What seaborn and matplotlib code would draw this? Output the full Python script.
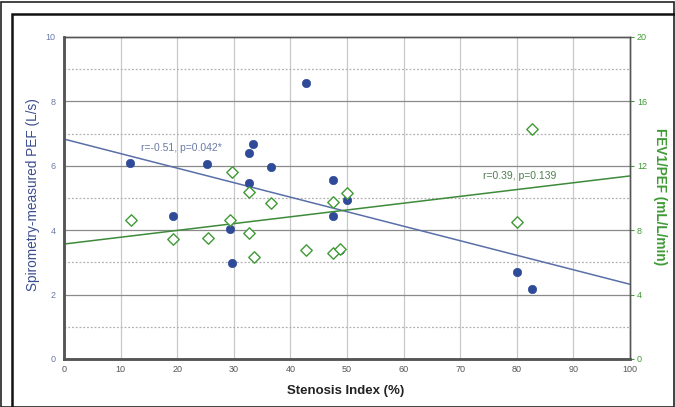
import numpy as np
import pandas as pd
import matplotlib
matplotlib.use("Agg")
import matplotlib.pyplot as plt
import seaborn as sns
from matplotlib.patches import Rectangle

# -----------------------------
# Data
# -----------------------------
pef_x = [11.7, 19.3, 25.3, 29.3, 29.6, 32.7, 33.4, 32.7, 36.5, 42.8,
         47.5, 47.5, 50.0, 48.8, 80.0, 82.7]
pef_y = [6.10, 4.45, 6.05, 4.04, 2.98, 6.40, 6.68, 5.47, 5.96, 8.57,
         5.56, 4.44, 4.94, 3.38, 2.70, 2.17]

ratio_x = [11.8, 19.3, 25.4, 29.3, 29.6, 32.7, 32.7, 33.5, 36.5, 42.8,
           47.5, 47.5, 48.8, 50.0, 80.0, 82.7]
ratio_y = [8.63, 7.45, 7.50, 8.63, 11.6, 10.4, 7.80, 6.35, 9.67, 6.77,
           9.75, 6.60, 6.83, 10.3, 8.50, 14.3]

# fitted lines: intercept, slope
pef_fit = [6.83, -0.0451]
ratio_fit = [7.14, 0.0423]

pef_label = "r=-0.51, p=0.042*"
ratio_label = "r=0.39, p=0.139"

blue = "#2f4a99"
blue_line = "#5a6fa8"
green = "#3f9a35"
green_line = "#3d8a3a"

df_pef = pd.DataFrame({"x": pef_x, "y": pef_y})
df_ratio = pd.DataFrame({"x": ratio_x, "y": ratio_y})

sns.set_style("white")
plt.rcParams["font.family"] = ["Liberation Sans", "DejaVu Sans"]

fig = plt.figure(figsize=(6.75, 4.07), dpi=100)
ax = fig.add_axes([64 / 675, 1 - 359 / 407, (630 - 64) / 675, (359 - 37) / 407])
ax2 = ax.twinx()

# -----------------------------
# Frames around the figure
# -----------------------------
fig.patches.append(Rectangle((0.002, 0.0), 0.996, 0.995, transform=fig.transFigure,
                             fill=False, edgecolor="#222222", linewidth=1.2))
fig.patches.append(Rectangle((12 / 675, -0.1), 1.0, 1 - 14 / 407 + 0.1,
                             transform=fig.transFigure, fill=False,
                             edgecolor="#111111", linewidth=1.8))

# -----------------------------
# Grid
# -----------------------------
for gx in range(10, 100, 10):
    ax.axvline(gx, color="#c8c8c8", linewidth=0.9, zorder=0)
for gy in [2, 4, 6, 8]:
    ax.axhline(gy, color="#8a8a8a", linewidth=0.9, zorder=0)
for gy in [1, 3, 5, 7, 9]:
    ax.axhline(gy, color="#b0b0b0", linewidth=0.9, linestyle=(0, (1.5, 1.5)), zorder=0)

# -----------------------------
# Scatter + fit lines
# -----------------------------
xs = np.array([0, 100])
ax.plot(xs, pef_fit[0] + pef_fit[1] * xs, color=blue_line, linewidth=1.1, zorder=2)
sns.scatterplot(data=df_pef, x="x", y="y", ax=ax, color=blue, s=36,
                edgecolor=blue, linewidth=0.5, zorder=3)

ax2.plot(xs, ratio_fit[0] + ratio_fit[1] * xs, color=green_line, linewidth=1.1, zorder=2)
sns.scatterplot(data=df_ratio, x="x", y="y", ax=ax2, marker="D", s=34,
                facecolor="white", edgecolor=green, linewidth=1.0, zorder=3)

ax.text(13.6, 6.55, pef_label, color="#6b7aa6", fontsize=7.5, va="center")
ax2.text(74, 11.36, ratio_label, color="#4d7f4d", fontsize=7.5, va="center")

# -----------------------------
# Axes styling
# -----------------------------
ax.set_xlim(0, 100)
ax.set_ylim(0, 10)
ax2.set_ylim(0, 20)
ax.set_xticks(range(0, 101, 10))
ax.set_yticks([0, 2, 4, 6, 8, 10])
ax2.set_yticks([0, 4, 8, 12, 16, 20])

ax.tick_params(axis="x", labelsize=6.5, colors="#555555", length=2, pad=2)
ax.tick_params(axis="y", labelsize=6.5, colors="#6b7aa6", length=0, pad=6)
ax2.tick_params(axis="y", labelsize=6.5, colors=green, length=3, pad=2)

for a in (ax, ax2):
    for side in ["left", "right", "top", "bottom"]:
        a.spines[side].set_color("#555555")
        a.spines[side].set_linewidth(1.0)
    a.spines["left"].set_linewidth(1.8)
    a.spines["bottom"].set_linewidth(1.8)

ax.set_xlabel("Stenosis Index (%)", fontsize=9.5, fontweight="bold", color="#222222")
ax.set_ylabel("Spirometry-measured PEF (L/s)", fontsize=9.8, color="#3b4d8f")
ax2.set_ylabel("FEV1/PEF (mL/L/min)", fontsize=9.8, fontweight="bold", color=green,
               rotation=270, va="center")
ax.xaxis.set_label_coords(0.498, -0.081)
ax.yaxis.set_label_coords(-0.043, 0.51)
ax2.yaxis.set_label_coords(1.053, 0.505)

plt.savefig("out.png", dpi=100)
